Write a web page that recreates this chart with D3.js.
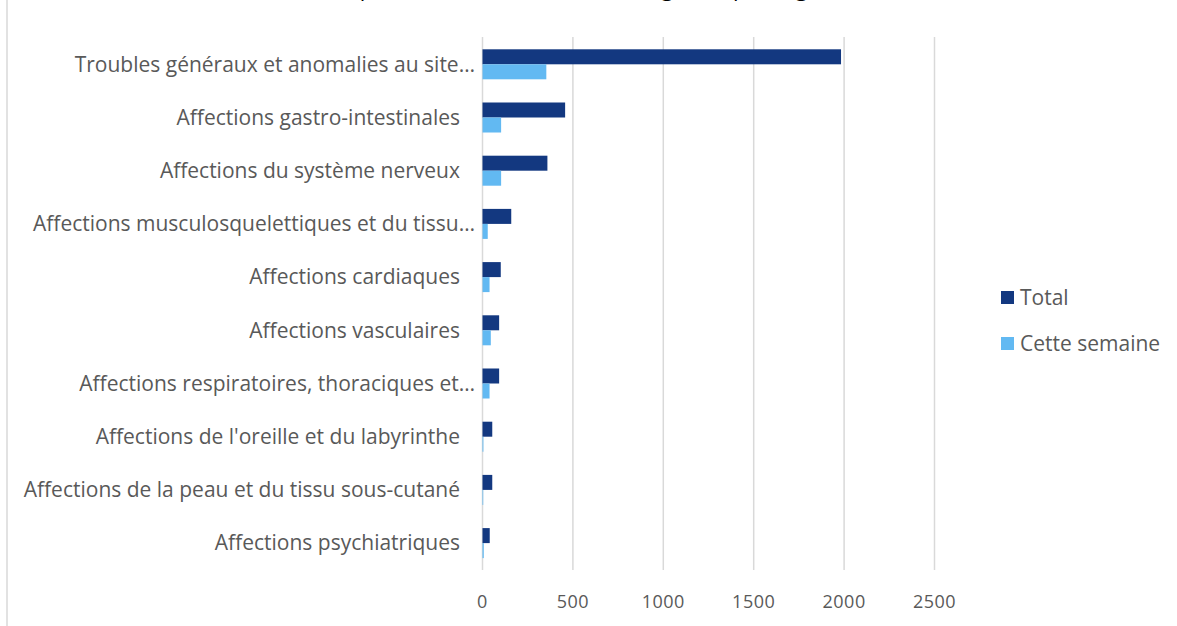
<!DOCTYPE html>
<html>
<head>
<meta charset="utf-8">
<script src="https://cdn.jsdelivr.net/npm/d3@7"></script>
<style>
  body { margin: 0; background: #fff; }
  svg { display: block; font-family: "Open Sans", sans-serif; }
</style>
</head>
<body>
<script>
// data
let categories = [
  "Troubles généraux et anomalies au site…",
  "Affections gastro-intestinales",
  "Affections du système nerveux",
  "Affections musculosquelettiques et du tissu…",
  "Affections cardiaques",
  "Affections vasculaires",
  "Affections respiratoires, thoraciques et…",
  "Affections de l'oreille et du labyrinthe",
  "Affections de la peau et du tissu sous-cutané",
  "Affections psychiatriques"
];
let series = ["Total", "Cette semaine"];
let totalValues = [1983, 457, 359, 159, 101, 92, 92, 54, 54, 40];
let weekValues = [353, 103, 103, 29, 39, 46, 39, 5, 4, 7];
let xTicks = [0, 500, 1000, 1500, 2000, 2500];
let title = "Top 10 des effets indésirables signalés par organe";

let colors = { "Total": "#133880", "Cette semaine": "#62b9f2" };

let width = 1177;
let height = 626;

let svg = d3.select("body").append("svg")
  .attr("width", width)
  .attr("height", height);

// chart border on the left
svg.append("line")
  .attr("x1", 7).attr("x2", 7)
  .attr("y1", 0).attr("y2", height)
  .style("stroke", "#d9d9d9")
  .style("stroke-width", 1.5);

// title, cut off by the top edge as in the original
svg.append("text")
  .attr("x", 590)
  .attr("y", -4)
  .attr("text-anchor", "middle")
  .style("font-size", "22px")
  .style("fill", "#000")
  .text(title);

let x = d3.scaleLinear()
  .domain([0, 2500])
  .range([482.5, 934.5]);

let y = d3.scaleBand()
  .domain(categories)
  .range([37.7, 569.7])
  .paddingInner(0.436)
  .paddingOuter(0.218);

let ySub = d3.scaleBand()
  .domain(series)
  .range([0, y.bandwidth()]);

// vertical gridlines
svg.append("g")
  .selectAll("line")
  .data(xTicks)
  .enter().append("line")
    .attr("x1", d => x(d)).attr("x2", d => x(d))
    .attr("y1", 37).attr("y2", 570)
    .style("stroke", "#d9d9d9")
    .style("stroke-width", 1.5);

// x tick labels
svg.append("g")
  .selectAll("text")
  .data(xTicks)
  .enter().append("text")
    .attr("x", d => x(d))
    .attr("y", 608)
    .attr("text-anchor", "middle")
    .style("font-size", "18px")
    .style("letter-spacing", "0.5px")
    .style("fill", "#595959")
    .text(d => d);

// bars
let rows = categories.map((c, i) => ({ cat: c, values: [totalValues[i], weekValues[i]] }));

let groups = svg.append("g")
  .selectAll("g")
  .data(rows)
  .enter().append("g")
    .attr("transform", d => "translate(0," + y(d.cat) + ")");

groups.selectAll("rect")
  .data(d => d.values.map((v, j) => ({ key: series[j], value: v })))
  .enter().append("rect")
    .attr("x", x(0))
    .attr("y", d => ySub(d.key))
    .attr("width", d => x(d.value) - x(0))
    .attr("height", ySub.bandwidth())
    .style("fill", d => colors[d.key]);

// category labels (truncated ones run a bit further right, like Excel)
svg.append("g")
  .selectAll("text")
  .data(categories)
  .enter().append("text")
    .attr("x", d => d.endsWith("…") ? 475 : 460)
    .attr("y", d => y(d) + y.bandwidth() / 2)
    .attr("dy", "0.35em")
    .attr("text-anchor", "end")
    .style("font-size", "21px")
    .style("fill", "#595959")
    .text(d => d);

// legend
let legend = svg.append("g")
  .selectAll("g")
  .data(series)
  .enter().append("g")
    .attr("transform", (d, i) => "translate(1001," + (291 + i * 46) + ")");

legend.append("rect")
  .attr("width", 13)
  .attr("height", 13)
  .style("fill", d => colors[d]);

legend.append("text")
  .attr("x", 19)
  .attr("y", 6.5)
  .attr("dy", "0.35em")
  .style("font-size", "21px")
  .style("fill", "#595959")
  .text(d => d);
</script>
</body>
</html>
